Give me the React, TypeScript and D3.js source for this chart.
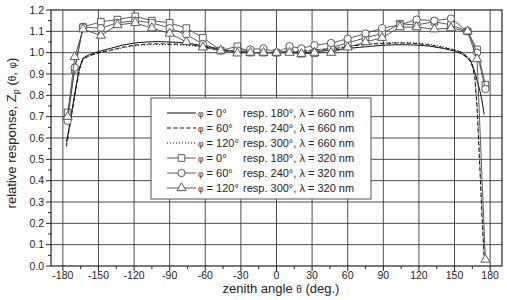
import React from 'react';
import * as d3 from 'd3';

// zenith angles of the 320 nm measurements (deg)
const uvAngles = [-176, -170, -163, -148, -134, -119, -105, -90, -76, -62, -47, -33, -22, -11, 0, 11, 21, 32, 46, 60, 75, 89, 104, 118, 133, 147, 161, 169, 176];
const uvPhi0 = [0.72, 0.92, 1.12, 1.145, 1.155, 1.17, 1.15, 1.14, 1.115, 1.07, 1.01, 1.03, 1.0, 1.0, 1.0, 1.01, 0.995, 0.997, 1.025, 1.045, 1.07, 1.09, 1.135, 1.13, 1.145, 1.13, 1.1, 1.015, 0.85];
const uvPhi60 = [0.68, 0.93, 1.12, 1.115, 1.14, 1.15, 1.14, 1.115, 1.085, 1.04, 1.01, 1.01, 1.015, 1.02, 1.0, 1.03, 1.02, 1.035, 1.045, 1.065, 1.09, 1.115, 1.13, 1.155, 1.15, 1.16, 1.1, 1.0, 0.83];
const uvPhi120 = [0.7, 0.98, 1.11, 1.08, 1.13, 1.14, 1.115, 1.09, 1.05, 1.025, 1.01, 0.997, 1.0, 1.0, 1.0, 1.0, 0.995, 1.0, 1.0, 1.025, 1.05, 1.07, 1.12, 1.12, 1.11, 1.115, 1.1, 0.97, 0.03];

// zenith angles of the 660 nm measurements (deg)
const visAngles = [-177, -175, -172, -169, -166, -163, -158, -150, -140, -130, -120, -110, -100, -90, -80, -70, -60, -50, -40, -30, -20, -10, 0, 10, 20, 30, 40, 50, 60, 70, 80, 90, 100, 110, 120, 130, 140, 150, 156, 161, 164, 167, 169, 171, 173, 175, 177];
const visPhi0: (number | null)[] = [0.58, 0.64, 0.74, 0.84, 0.93, 0.975, 0.99, 1.005, 1.02, 1.035, 1.045, 1.05, 1.052, 1.05, 1.047, 1.04, 1.03, 1.02, 1.01, 1.005, 1.0, 1.0, 1.0, 1.0, 1.0, 1.003, 1.008, 1.013, 1.02, 1.025, 1.03, 1.035, 1.037, 1.037, 1.035, 1.03, 1.02, 1.008, 0.995, 0.975, 0.955, 0.91, 0.87, 0.83, 0.78, 0.71, null];
const visPhi60: (number | null)[] = [0.56, 0.63, 0.73, 0.83, 0.92, 0.97, 0.985, 1.0, 1.012, 1.025, 1.035, 1.04, 1.042, 1.04, 1.04, 1.035, 1.025, 1.015, 1.008, 1.003, 1.0, 1.0, 1.0, 1.002, 1.005, 1.01, 1.015, 1.02, 1.028, 1.035, 1.04, 1.043, 1.045, 1.045, 1.042, 1.035, 1.025, 1.012, 1.0, 0.98, 0.96, 0.89, 0.74, 0.5, 0.25, 0.03, null];
const visPhi120: (number | null)[] = [0.57, 0.635, 0.735, 0.835, 0.925, 0.97, 0.983, 0.998, 1.01, 1.022, 1.032, 1.037, 1.038, 1.037, 1.036, 1.032, 1.024, 1.015, 1.008, 1.003, 1.0, 1.0, 1.0, 1.003, 1.006, 1.012, 1.018, 1.024, 1.03, 1.037, 1.042, 1.046, 1.047, 1.047, 1.044, 1.038, 1.028, 1.015, 1.002, 0.982, 0.962, 0.9, 0.76, 0.53, 0.28, 0.05, null];

const xTicks = [-180, -150, -120, -90, -60, -30, 0, 30, 60, 90, 120, 150, 180];
const legendPhi = ['0°', '60°', '120°', '0°', '60°', '120°'];
const legendResp = ['resp. 180°, λ = 660 nm', 'resp. 240°, λ = 660 nm', 'resp. 300°, λ = 660 nm', 'resp. 180°, λ = 320 nm', 'resp. 240°, λ = 320 nm', 'resp. 300°, λ = 320 nm'];

const W = 507;
const H = 300;
const margin = { top: 10, right: 5, bottom: 34, left: 51 };
const font = '"Liberation Sans", Arial, sans-serif';
const ink = '#222';
const gridCol = '#3a3a3a';
const markCol = '#4a4a4a';

const App: React.FC = () => {
  const x = d3.scaleLinear().domain([-190, 190]).range([margin.left, W - margin.right]);
  const y = d3.scaleLinear().domain([0, 1.2]).range([H - margin.bottom, margin.top]);
  const x0 = x.range()[0], x1 = x.range()[1];
  const y0 = y.range()[0], y1 = y.range()[1];

  const yTicks = d3.range(0, 13).map(i => i / 10);
  const yMinor = d3.range(0, 12).map(i => i / 10 + 0.05);
  const xMinor = d3.range(-15 * 13, 15 * 13 + 1, 15).filter(v => v % 30 !== 0 && v > -190 && v < 190);

  const line = d3.line<[number, number | null]>()
    .defined(d => d[1] !== null)
    .x(d => x(d[0]))
    .y(d => y(d[1] as number));

  const visSeries = [
    { values: visPhi0, dash: undefined },
    { values: visPhi60, dash: '4,2.5' },
    { values: visPhi120, dash: '1,2' },
  ];
  const symbolTypes = [d3.symbolSquare, d3.symbolCircle, d3.symbolTriangle];
  const symbolSizes = [44, 42, 36];
  const uvSeries = [uvPhi0, uvPhi60, uvPhi120];
  const sym = (i: number) => d3.symbol().type(symbolTypes[i]).size(symbolSizes[i])() as string;

  const lg = { x: 151, y: 98, w: 220, h: 101, row: 15 };

  return (
    <svg width={W} height={H} style={{ position: 'absolute', left: 0, top: 0, background: '#fff' }} fontFamily={font}>
      {/* grid */}
      {xTicks.map(t => (
        <line key={`gx${t}`} x1={x(t)} x2={x(t)} y1={y0} y2={y1} stroke={gridCol} strokeWidth={0.9} />
      ))}
      {yTicks.slice(1, -1).map(t => (
        <line key={`gy${t}`} x1={x0} x2={x1} y1={y(t)} y2={y(t)} stroke={gridCol} strokeWidth={0.9} />
      ))}

      {/* 660 nm curves */}
      {visSeries.map((s, i) => (
        <path key={`v${i}`} d={line(visAngles.map((a, j) => [a, s.values[j]]) as [number, number | null][]) || ''}
          fill="none" stroke="#111" strokeWidth={1} strokeDasharray={s.dash} />
      ))}

      {/* 320 nm curves with markers */}
      {uvSeries.map((vals, i) => (
        <g key={`u${i}`}>
          <path d={line(uvAngles.map((a, j) => [a, vals[j]]) as [number, number][]) || ''}
            fill="none" stroke={markCol} strokeWidth={0.9} />
          {uvAngles.map((a, j) => (
            <path key={j} d={sym(i)} transform={`translate(${x(a)},${y(vals[j])})`}
              fill="#fff" stroke={markCol} strokeWidth={0.9} />
          ))}
        </g>
      ))}

      {/* frame */}
      <rect x={x0} y={y1} width={x1 - x0} height={y0 - y1} fill="none" stroke={ink} strokeWidth={1.2} />

      {/* y axis */}
      {yTicks.map(t => (
        <g key={`yt${t}`}>
          <line x1={x0 - 5} x2={x0} y1={y(t)} y2={y(t)} stroke={ink} />
          <text x={x0 - 7} y={y(t)} dy="0.35em" textAnchor="end" fontSize={10.5} fill={ink}>{t.toFixed(1)}</text>
        </g>
      ))}
      {yMinor.map(t => (
        <line key={`ym${t}`} x1={x0 - 3} x2={x0} y1={y(t)} y2={y(t)} stroke={ink} />
      ))}

      {/* x axis */}
      {xTicks.map(t => (
        <g key={`xt${t}`}>
          <line x1={x(t)} x2={x(t)} y1={y0} y2={y0 + 5} stroke={ink} />
          <text x={x(t)} y={y0 + 13} textAnchor="middle" fontSize={10.5} fill={ink}>{t}</text>
        </g>
      ))}
      {xMinor.map(t => (
        <line key={`xm${t}`} x1={x(t)} x2={x(t)} y1={y0} y2={y0 + 3} stroke={ink} />
      ))}

      <text x={281} y={293} textAnchor="middle" fontSize={13} fill={ink}>
        zenith angle <tspan fontSize={10}>θ</tspan> (deg.)
      </text>
      <text transform="translate(16,133) rotate(-90)" textAnchor="middle" fontSize={13} fill={ink}>
        relative response, Z<tspan fontSize={9} dy={3}>p</tspan><tspan dy={-3}> (<tspan fontSize={10}>θ</tspan>, <tspan fontSize={10}>φ</tspan>)</tspan>
      </text>

      {/* legend */}
      <rect x={lg.x} y={lg.y} width={lg.w} height={lg.h} fill="#fff" stroke="#555" strokeWidth={1} />
      {legendPhi.map((p, i) => {
        const ry = lg.y + 15 + i * lg.row;
        const sx0 = 167, sx1 = 196;
        return (
          <g key={`lg${i}`}>
            {i < 3 ? (
              <line x1={sx0} x2={sx1} y1={ry} y2={ry} stroke="#111" strokeWidth={1} strokeDasharray={visSeries[i].dash} />
            ) : (
              <g>
                <line x1={sx0} x2={sx1} y1={ry} y2={ry} stroke={markCol} strokeWidth={0.9} />
                <path d={sym(i - 3)} transform={`translate(${(sx0 + sx1) / 2},${ry})`} fill="#fff" stroke={markCol} strokeWidth={0.9} />
              </g>
            )}
            <text x={198} y={ry} dy="0.35em" fontSize={11} fill={ink}>
              <tspan fontSize={8.5}>φ</tspan> = {p}
            </text>
            <text x={243} y={ry} dy="0.35em" fontSize={11} fill={ink}>{legendResp[i]}</text>
          </g>
        );
      })}
    </svg>
  );
};

export default App;
